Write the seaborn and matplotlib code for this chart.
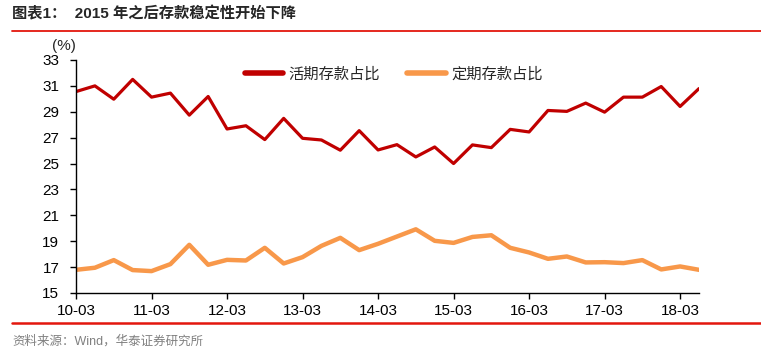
import matplotlib
matplotlib.use("Agg")
import matplotlib.pyplot as plt
import numpy as np
import pandas as pd
import seaborn as sns

# quarterly data 10-03 .. 18-06
quarters = [f"{y:02d}-{m:02d}" for y in range(10, 19) for m in (3, 6, 9, 12)][:34]

demand_share = [30.56, 31.0, 29.97, 31.5, 30.13, 30.44, 28.74, 30.18,
                27.67, 27.92, 26.85, 28.49, 26.95, 26.82, 26.03, 27.54,
                26.05, 26.46, 25.51, 26.28, 25.0, 26.44, 26.23, 27.64,
                27.44, 29.10, 29.03, 29.67, 28.97, 30.13, 30.13, 30.95,
                29.41, 30.79]
time_share = [16.79, 16.95, 17.54, 16.77, 16.69, 17.23, 18.72, 17.18,
              17.56, 17.51, 18.49, 17.28, 17.77, 18.64, 19.26, 18.31,
              18.8, 19.36, 19.92, 19.03, 18.87, 19.33, 19.46, 18.49,
              18.13, 17.64, 17.82, 17.36, 17.38, 17.31, 17.54, 16.82,
              17.05, 16.79]

tick_labels = ["10-03", "11-03", "12-03", "13-03", "14-03", "15-03", "16-03", "17-03", "18-03"]

df = pd.DataFrame({"idx": np.arange(len(quarters)), "q": quarters,
                   "活期存款占比": demand_share, "定期存款占比": time_share})
long = df.melt(id_vars=["idx", "q"], var_name="series", value_name="val")

sns.set_style("white")
plt.rcParams['font.family'] = ['Liberation Sans', 'Noto Sans CJK SC', 'DejaVu Sans']

fig = plt.figure(figsize=(7.61, 3.56), dpi=100)
ax = fig.add_axes([0.0999, 0.177, 0.8186, 0.6545])

sns.lineplot(data=long, x="idx", y="val", hue="series",
             palette={"活期存款占比": "#C00000", "定期存款占比": "#F8984A"},
             ax=ax, legend=True)
ax.lines[0].set_linewidth(2.3)
ax.lines[1].set_linewidth(3.2)

ax.set_xlim(0, len(quarters) - 1)
ax.set_ylim(15, 33)
ax.set_yticks(range(15, 34, 2))
ax.set_xticks(np.arange(0, 33, 4))
ax.set_xticklabels(tick_labels)
ax.set_xlabel("")
ax.set_ylabel("")
ax.tick_params(axis="both", direction="out", length=4, width=1, labelsize=11,
               colors="black", left=True, bottom=True)
ax.tick_params(axis="y", pad=8)
ax.tick_params(axis="x", pad=4)
for s in ["top", "right"]:
    ax.spines[s].set_visible(False)
for s in ["left", "bottom"]:
    ax.spines[s].set_color("black")
    ax.spines[s].set_linewidth(1)

handles, labels = ax.get_legend_handles_labels()
for h in handles:
    h.set_linewidth(4)
ax.legend(handles, labels, loc="upper left", bbox_to_anchor=(0.249, 1.035), ncol=2,
          frameon=False, handlelength=2.5, handletextpad=0.35, columnspacing=1.8,
          prop={"family": ["Noto Sans CJK SC"], "size": 11})

fig.text(52 / 761, 1 - 46 / 356, "(%)", fontsize=11, ha="left", va="center")

# title and red rules
fig.text(12 / 761, 1 - 14 / 356, "图表1：  2015 年之后存款稳定性开始下降", fontsize=11,
         fontweight="bold", ha="left", va="center")
fig.add_artist(plt.Line2D([12 / 761, 1], [1 - 31 / 356] * 2, color="#E3170D", lw=1.3))
fig.add_artist(plt.Line2D([12 / 761, 1], [1 - 323 / 356] * 2, color="#E3170D", lw=1.8))
fig.text(12 / 761, 1 - 341 / 356, "资料来源：Wind，华泰证券研究所", fontsize=9,
         color="#808080", ha="left", va="center")

fig.savefig("out.png", dpi=100)
